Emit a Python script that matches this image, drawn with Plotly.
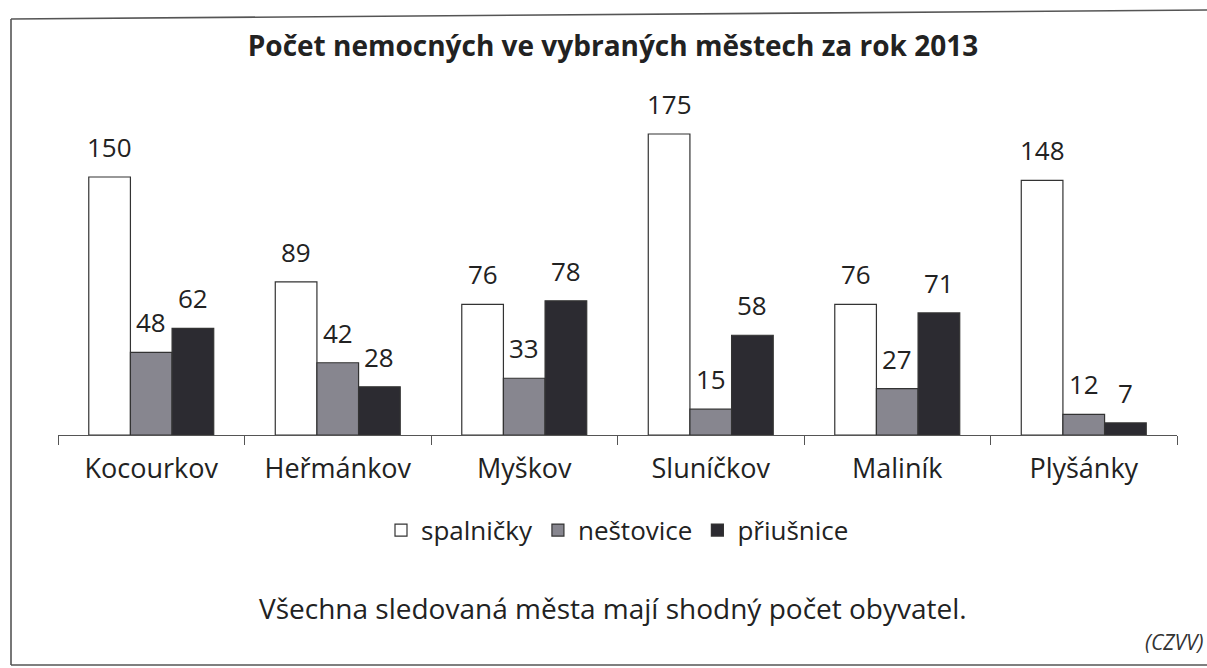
import plotly.graph_objects as go

cities = ["Kocourkov", "Heřmánkov", "Myškov", "Sluníčkov", "Maliník", "Plyšánky"]
spalnicky = [150, 89, 76, 175, 76, 148]
nestovice = [48, 42, 33, 15, 27, 12]
priusnice = [62, 28, 78, 58, 71, 7]
series_names = ["spalničky", "neštovice", "přiušnice"]
series_values = [spalnicky, nestovice, priusnice]
series_colors = ["#ffffff", "#87868f", "#2c2b31"]

title_text = "Počet nemocných ve vybraných městech za rok 2013"
caption_text = "Všechna sledovaná města mají shodný počet obyvatel."
source_text = "(CZVV)"

FONT = "Open Sans"
TXT = "#222222"
BARGAP = 0.33

fig = go.Figure()
for name, vals, col in zip(series_names, series_values, series_colors):
    fig.add_trace(go.Bar(
        x=cities, y=vals, name=name,
        marker=dict(color=col, line=dict(color="#333333", width=1.2)),
    ))

# value labels above the bars
n = len(series_values)
w = (1 - BARGAP) / n
for k, vals in enumerate(series_values):
    off = (k - (n - 1) / 2) * w
    for i, v in enumerate(vals):
        fig.add_annotation(x=i + off, y=v, xref="x", yref="y", text=str(v),
                           showarrow=False, yanchor="bottom", yshift=10,
                           font=dict(family=FONT, size=26, color=TXT))

fig.add_annotation(x=0.496, y=-0.516, xref="paper", yref="paper", text=caption_text,
                   showarrow=False, yanchor="middle",
                   font=dict(family=FONT, size=28, color=TXT))
fig.add_annotation(x=1.026, y=-0.618, xref="paper", yref="paper", text="<i>" + source_text + "</i>",
                   showarrow=False, xanchor="right", yanchor="middle",
                   font=dict(family=FONT, size=21, color="#333333"))

# scanned page frame (open on the right)
frame = dict(color="#555555", width=1.6)
px = lambda X: (X - 58) / 1119
py = lambda Y: (435 - Y) / 335
fig.add_shape(type="line", xref="paper", yref="paper", x0=px(11), x1=px(11), y0=py(19), y1=py(665), line=frame)
fig.add_shape(type="line", xref="paper", yref="paper", x0=px(11), x1=px(1210), y0=py(19), y1=py(10), line=frame)
fig.add_shape(type="line", xref="paper", yref="paper", x0=px(11), x1=px(1210), y0=py(665), y1=py(665), line=frame)

fig.update_layout(
    width=1207, height=668,
    margin=dict(l=58, r=30, t=100, b=233),
    paper_bgcolor="white", plot_bgcolor="white",
    barmode="group", bargap=BARGAP, bargroupgap=0,
    title=dict(text="<b>" + title_text + "</b>", x=613 / 1207, xref="container",
               xanchor="center", y=1 - 46 / 668, yref="container", yanchor="middle",
               font=dict(family=FONT, size=28, color=TXT)),
    legend=dict(orientation="h", x=0.5, xanchor="center", y=-0.284, yanchor="middle",
                font=dict(family=FONT, size=26, color=TXT), itemwidth=30,
                bgcolor="rgba(0,0,0,0)"),
    showlegend=True,
    xaxis=dict(showline=True, linecolor="#555555", linewidth=1,
               ticks="outside", tickson="boundaries", ticklen=9, tickcolor="#555555",
               ticklabelstandoff=10,
               tickfont=dict(family=FONT, size=27, color=TXT), showgrid=False),
    yaxis=dict(range=[0, 335 / 1.72], visible=False, showgrid=False),
)

fig.write_html("out.html")
